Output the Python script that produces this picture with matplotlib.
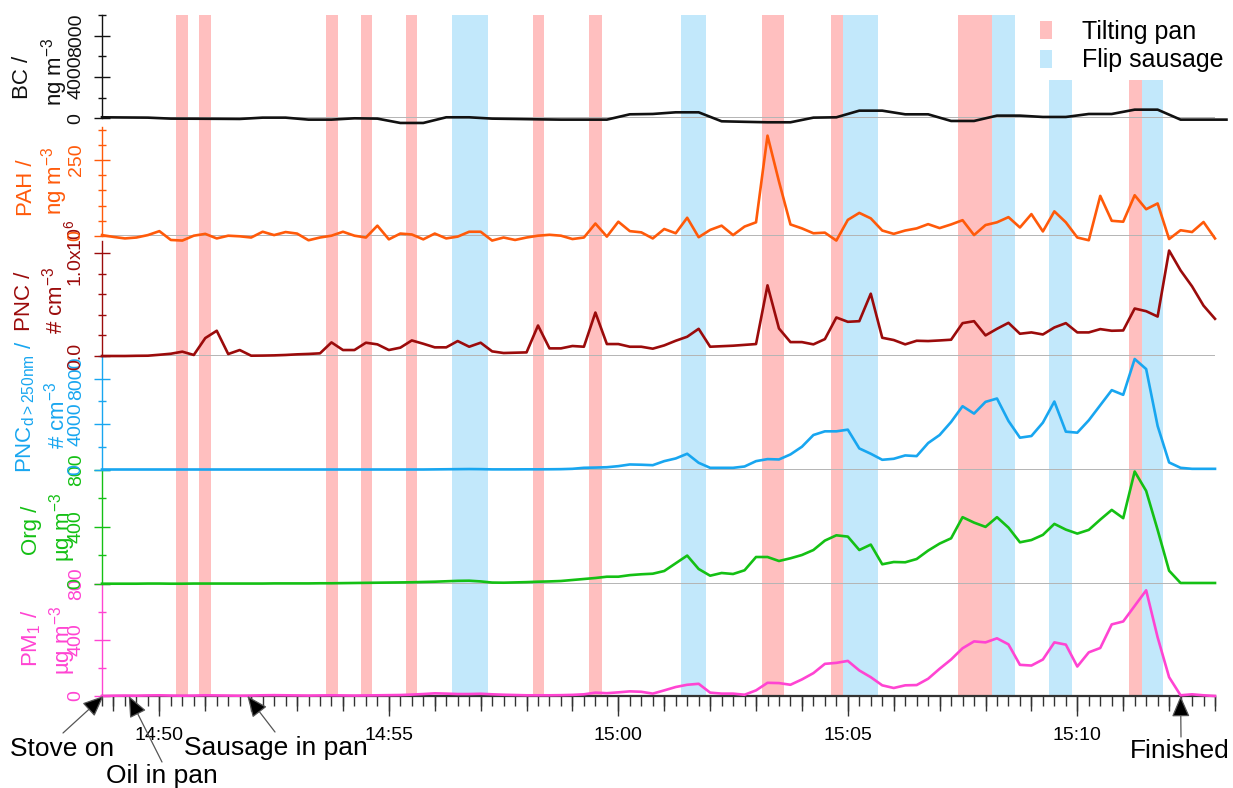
import matplotlib

matplotlib.use("Agg")
import matplotlib.pyplot as plt
from matplotlib.patches import Patch
from matplotlib.ticker import FuncFormatter, MultipleLocator
import pandas as pd

plt.rcParams["font.family"] = ["Liberation Sans", "DejaVu Sans"]
plt.rcParams["mathtext.fontset"] = "custom"
plt.rcParams["mathtext.rm"] = "Liberation Sans"
plt.rcParams["mathtext.it"] = "Liberation Sans:italic"
plt.rcParams["mathtext.bf"] = "Liberation Sans:bold"

DAY = "2019-01-01 "
REF = pd.Timestamp(DAY + "14:50:00")

# sampling grids: 15 s for most instruments, 30 s for the aethalometer
time_15s = pd.date_range(DAY + "14:48:45", DAY + "15:13:00", freq="15s")
time_30s = pd.date_range(DAY + "14:48:45", periods=50, freq="30s")

bc = [97, 80, 64, -32, -40, -50, -64, 64, 64, -129,
      -129, 0, -32, -451, -451, 97, 97, -32, -64, -100,
      -129, -129, -129, 386, 420, 580, 580, -290, -340, -386,
      -386, 64, 97, 740, 740, 386, 386, -258, -258, 258,
      258, 129, 129, 418, 418, 837, 837, -129, -129, -129]

pah = [3, -3, -8, -5, 3, 16, -13, -15, 1, 7,
       -8, 1, -1, -5, 14, 3, 13, 8, -14, -5,
       1, 14, 1, -5, 34, -11, 8, 5, -11, 8,
       -8, -2, 14, 14, -15, -5, -13, -5, 1, 4,
       1, -10, -5, 41, -2, 47, 16, 12, -8, 23,
       9, 60, -4, 20, 34, 3, 31, 45, 330, 179,
       38, 25, 9, 11, -15, 53, 76, 58, 18, 7,
       18, 25, 39, 26, 38, 52, 3, 36, 45, 62,
       28, 72, 15, 81, 45, -5, -14, 132, 50, 47,
       134, 88, 107, -10, 19, 13, 46, -8]

# thousands of particles per cm3
pnc_k = [0, 0, 0, 2, 3, 12, 22, 42, 10, 174,
         245, 19, 58, 3, 4, 6, 10, 16, 20, 26,
         132, 58, 58, 129, 113, 58, 81, 151, 119, 84,
         84, 145, 90, 129, 45, 29, 32, 35, 296, 74,
         74, 97, 90, 422, 116, 116, 90, 90, 71, 103,
         148, 187, 264, 90, 95, 100, 108, 116, 686, 267,
         135, 135, 113, 164, 374, 332, 338, 605, 177, 155,
         113, 148, 145, 151, 158, 319, 338, 200, 264, 322,
         216, 229, 209, 277, 319, 229, 229, 261, 245, 248,
         461, 435, 383, 1024, 831, 676, 489, 361]

pnc250 = [0, 0, 0, 0, 0, 0, 0, 0, 0, 0,
          0, 0, 0, 0, 0, 0, 0, 0, 0, 0,
          0, 0, 0, 0, 0, 0, 0, 0, 0, 10,
          20, 30, 40, 30, 10, 10, 10, 15, 15, 20,
          30, 60, 150, 170, 200, 295, 443, 420, 380, 737,
          973, 1387, 590, 148, 148, 148, 265, 737, 915, 885,
          1328, 2006, 3038, 3363, 3363, 3510, 1858, 1387, 856, 944,
          1239, 1180, 2330, 3038, 4189, 5575, 4926, 5959, 6254, 4277,
          2803, 2950, 4130, 5988, 3333, 3245, 4336, 5664, 6992, 6578,
          9735, 8850, 3835, 620, 148, 59, 59, 59]

org = [0, 0, 0, 0, 1, 1, 0, 0, 1, 1,
       1, 1, 1, 1, 1, 2, 2, 2, 2, 3,
       3, 4, 5, 6, 7, 8, 9, 10, 12, 14,
       17, 20, 21, 16, 8, 7, 9, 11, 14, 16,
       19, 26, 33, 40, 49, 49, 60, 66, 70, 89,
       143, 197, 103, 56, 75, 68, 94, 187, 187, 159,
       178, 201, 236, 302, 339, 330, 236, 274, 136, 152,
       150, 173, 232, 281, 318, 466, 428, 398, 466, 393,
       290, 306, 342, 419, 379, 351, 377, 449, 517, 459,
       786, 650, 377, 91, 5, 5, 5, 5]

pm1 = [0, 2, 3, 2, 4, 5, 3, 2, 3, 5,
       4, 3, 2, 3, 5, 6, 5, 4, 3, 4,
       5, 4, 3, 4, 5, 6, 7, 10, 14, 19,
       17, 14, 14, 16, 12, 9, 7, 5, 5, 5,
       6, 8, 12, 24, 20, 26, 33, 30, 17, 40,
       64, 80, 87, 24, 17, 17, 9, 40, 94, 92,
       80, 118, 163, 229, 236, 250, 182, 134, 76, 57,
       76, 78, 123, 194, 260, 340, 389, 382, 411, 368,
       222, 217, 260, 382, 366, 210, 311, 342, 510, 531,
       642, 753, 418, 134, 5, 12, 5, 0]

tilt_start = ["14:50:22", "14:50:52", "14:53:38", "14:54:23", "14:55:22", "14:58:08",
              "14:59:22", "15:03:08", "15:04:38", "15:07:24", "15:11:08"]
tilt_end = ["14:50:38", "14:51:08", "14:53:54", "14:54:38", "14:55:37", "14:58:23",
            "14:59:38", "15:03:37", "15:04:54", "15:08:08", "15:11:24"]
flip_start = ["14:56:23", "15:01:22", "15:04:54", "15:08:08", "15:09:23", "15:11:24"]
flip_end = ["14:57:09", "15:01:54", "15:05:39", "15:08:39", "15:09:53", "15:11:52"]

event_labels = ["Stove on", "Oil in pan", "Sausage in pan", "Finished"]
event_times = ["14:48:47", "14:49:20", "14:51:55", "15:12:15"]

PINK = "#FFBFBF"
BLUE = "#C2E8FB"
W, H = 1233, 788
LEFT, RIGHT = 102, 1215


def minutes(times):
    return (pd.DatetimeIndex(times) - REF) / pd.Timedelta(minutes=1)


def clock_minutes(strings):
    return minutes([pd.Timestamp(DAY + s) for s in strings])


def fmt_clock(value, _pos):
    total = int(round(value)) + 14 * 60 + 50
    return f"{total // 60}:{total % 60:02d}"


x15 = minutes(time_15s)
x30 = minutes(time_30s)
tilt = list(zip(clock_minutes(tilt_start), clock_minutes(tilt_end)))
flip = list(zip(clock_minutes(flip_start), clock_minutes(flip_end)))

panels = [
    dict(x=x30, y=bc, color="#111111", px=(15, 118.3), ylim=(0, 10000),
         major=[0, 4000, 8000], labels=["0", "4000", "8000"], minor=[2000, 6000, 10000],
         name=("BC /", 23, 77), unit=("ng m$^{-3}$", 55, 72), spine_top=None),
    dict(x=x15, y=pah, color="#FF5A0A", px=(118.3, 236), ylim=(0, 387),
         major=[0, 250], labels=["0", "250"], minor=[50, 100, 150, 200, 300, 350],
         name=("PAH /", 26, 188), unit=("ng m$^{-3}$", 55, 181), spine_top=358),
    dict(x=x15, y=[v * 1000 for v in pnc_k], color="#9B0B0B", px=(236, 356), ylim=(0, 1.165e6),
         major=[0, 1.0e6], labels=["0.0", "1.0x10$^{6}$"], minor=[2e5, 4e5, 6e5, 8e5],
         name=("PNC /", 24, 301), unit=("# cm$^{-3}$", 55, 300), spine_top=1.12e6),
    dict(x=x15, y=pnc250, color="#18A6F0", px=(356, 469.5), ylim=(0, 10000),
         major=[0, 4000, 8000], labels=["0", "4000", "8000"], minor=[2000, 6000, 10000],
         name=("PNC$_{\\mathrm{d>250nm}}$ /", 25, 407), unit=("# cm$^{-3}$", 57, 415), spine_top=None),
    dict(x=x15, y=org, color="#14C014", px=(469.5, 583.7), ylim=(0, 800),
         major=[0, 400, 800], labels=["0", "400", "800"], minor=[200, 600],
         name=("Org /", 31, 530), unit=("µg m$^{-3}$", 63, 527), spine_top=None),
    dict(x=x15, y=pm1, color="#FF44D2", px=(583.7, 696), ylim=(0, 800),
         major=[0, 400, 800], labels=["0", "400", "800"], minor=[200, 600],
         name=("PM$_{1}$ /", 31, 638), unit=("µg m$^{-3}$", 63, 640), spine_top=None),
]

fig = plt.figure(figsize=(W / 100, H / 100), dpi=100)
axes = []
for i, p in enumerate(panels):
    top, bottom = p["px"]
    ax = fig.add_axes([LEFT / W, 1 - bottom / H, (RIGHT - LEFT) / W, (bottom - top) / H],
                      facecolor="none", zorder=10 - i)
    for s, e in tilt:
        ax.axvspan(s, e, color=PINK, lw=0, zorder=0)
    for s, e in flip:
        ax.axvspan(s, e, color=BLUE, lw=0, zorder=0)
    last = i == len(panels) - 1
    if not last:
        ax.axhline(0, color="#b4b4b4", lw=1.4, zorder=1)
    ax.plot(p["x"], p["y"], color=p["color"], lw=1.9, zorder=3, clip_on=False)
    ax.set_xlim(x15[0], x15[-1])
    ax.set_ylim(*p["ylim"])

    for side in ("top", "right"):
        ax.spines[side].set_visible(False)
    ax.spines["left"].set_color(p["color"])
    ax.spines["left"].set_linewidth(1.0)
    if p["spine_top"] is not None:
        ax.spines["left"].set_bounds(0, p["spine_top"])
    ax.set_yticks(p["major"], p["labels"])
    ax.set_yticks(p["minor"], minor=True)
    ax.tick_params(axis="y", which="major", direction="inout", length=11, width=1,
                   colors=p["color"], labelsize=14, pad=7, labelrotation=90)
    ax.tick_params(axis="y", which="minor", direction="inout", length=5.5, width=1,
                   colors=p["color"])
    for lbl in ax.get_yticklabels():
        lbl.set_va("center")

    if last:
        ax.spines["bottom"].set_color("#333333")
        ax.spines["bottom"].set_linewidth(1.6)
        ax.xaxis.set_major_locator(MultipleLocator(5))
        ax.xaxis.set_minor_locator(MultipleLocator(0.25))
        ax.xaxis.set_major_formatter(FuncFormatter(fmt_clock))
        ax.tick_params(axis="x", which="major", direction="out", length=14.5, width=1,
                       color="#333333", labelsize=14, pad=8)
        ax.tick_params(axis="x", which="minor", direction="out", length=7, width=1,
                       color="#333333")
        sec = ax.secondary_xaxis("bottom")
        sec.xaxis.set_major_locator(MultipleLocator(1))
        sec.tick_params(axis="x", direction="out", length=11, width=1, color="#333333",
                        labelbottom=False)
        sec.spines["bottom"].set_visible(False)
    else:
        ax.spines["bottom"].set_visible(False)
        ax.tick_params(axis="x", which="both", bottom=False, labelbottom=False)

    for text, px_x, px_y in (p["name"], p["unit"]):
        fig.text(px_x / W, 1 - px_y / H, text, rotation=90, ha="center", va="center",
                 fontsize=16, color=p["color"])
    axes.append(ax)

# event markers below the time axis
ax_pm = axes[-1]
tails = [(63, 733), (162, 762), (275, 732), (1181, 737)]
text_pos = [(10, 756, "left"), (106, 783, "left"), (184, 755, "left"), (1180, 758, "center")]
event_x = clock_minutes(event_times)
for label, t, (tx, ty), (lx, ly, ha) in zip(event_labels, event_x, tails, text_pos):
    ax_pm.annotate("", xy=(t, 0), xycoords="data", xytext=(tx, H - ty),
                   textcoords="figure pixels", annotation_clip=False,
                   arrowprops=dict(arrowstyle="-|>,head_length=0.65,head_width=0.28",
                                   mutation_scale=20, fc="black", ec="#555555", lw=0.9,
                                   shrinkA=0, shrinkB=0))
    fig.text(lx / W, 1 - ly / H, label, fontsize=19, ha=ha, va="baseline")

handles = [Patch(fc=PINK, ec="none", label="Tilting pan"),
           Patch(fc=BLUE, ec="none", label="Flip sausage")]
leg = fig.legend(handles=handles, loc="upper right", bbox_to_anchor=(1 - 2 / W, 1 - 12 / H),
                 fontsize=18, frameon=True, facecolor="white", edgecolor="none", framealpha=1,
                 fancybox=False, handlelength=0.5, handleheight=0.7, handletextpad=1.2,
                 labelspacing=0.2, borderpad=0.3, borderaxespad=0)
leg.set_zorder(50)

fig.savefig("out.png", dpi=100)
